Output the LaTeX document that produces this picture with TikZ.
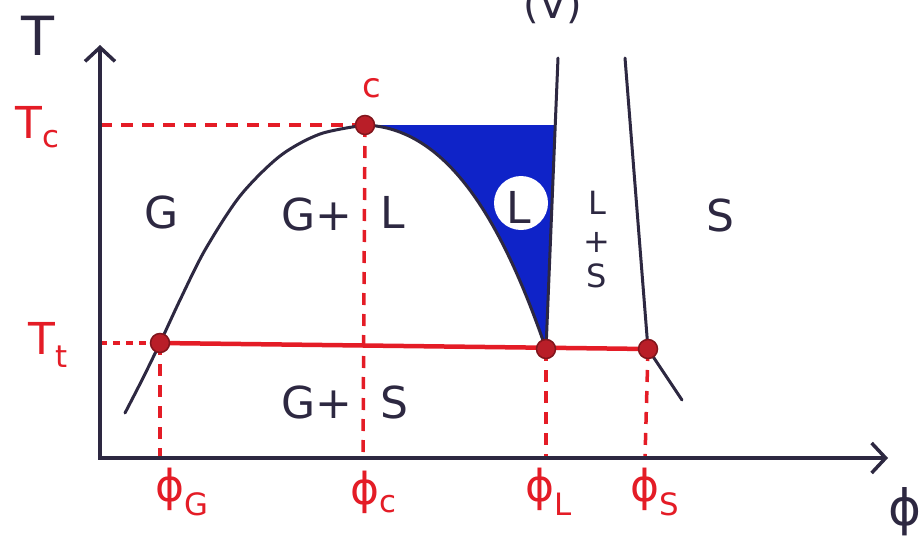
\documentclass[tikz,border=0pt]{standalone}
\usepackage{fontspec}
\setmainfont{DejaVu Sans}
\usetikzlibrary{arrows.meta}
\definecolor{ink}{RGB}{45,40,65}
\definecolor{redink}{RGB}{228,28,38}
\definecolor{blueink}{RGB}{15,35,200}
\definecolor{dotred}{RGB}{185,30,40}
\begin{document}
\begin{tikzpicture}[x=1pt,y=-1pt,
  axis/.style={draw=ink, line width=3.5pt},
  curve/.style={draw=ink, line width=3pt, line cap=round},
  reddash/.style={draw=redink, line width=3.5pt, dash pattern=on 12pt off 9pt},
  reddot/.style={draw=redink, line width=3.5pt, dash pattern=on 7pt off 6pt},
  redline/.style={draw=redink, line width=4.5pt},
  ptmark/.style={circle, fill=dotred, draw=dotred!70!black, line width=1.5pt, minimum size=19pt, inner sep=0pt},
  lab/.style={text=ink, font=\fontsize{44}{44}\selectfont, inner sep=0pt},
  smlab/.style={text=ink, font=\fontsize{32}{32}\selectfont, inner sep=0pt},
  rlab/.style={text=redink, font=\fontsize{44}{44}\selectfont, inner sep=0pt},
  tip/.style={-{Straight Barb[length=14pt,width=30pt,line width=3.5pt]}}
]
\useasboundingbox (0,0) rectangle (920,538);
\fill[white] (0,0) rectangle (920,538);

% key coordinates
\coordinate (O) at (100,458);
\coordinate (Ytop) at (100,45);
\coordinate (Xend) at (888,458);
\coordinate (C) at (365,125);
\coordinate (TG) at (160,343);
\coordinate (TL) at (546,349);
\coordinate (TS) at (648,349);
\coordinate (Mtop) at (558,58);
\coordinate (Stop) at (625,58);
\coordinate (Send) at (682,400);
\coordinate (TcAxis) at (100,125);
\coordinate (TtAxis) at (100,343);
\coordinate (TcBlue) at (555,125);
\coordinate (xG) at (160,458);
\coordinate (xC) at (363,458);
\coordinate (xL) at (546,458);
\coordinate (xS) at (645,458);

% blue liquid region
\fill[blueink] (C) .. controls (445,128) and (500,215) .. (TL) -- (TcBlue) -- cycle;
\node[circle, fill=white, minimum size=54pt, inner sep=0pt] (Lc) at (521,203) {};
\node[lab] (Lin) at (519,207) {L};

% dashed guide lines
\draw[reddash] (TcAxis) -- (C);
\draw[reddot] (TtAxis) -- (TG);
\draw[reddash] (C) -- (xC);
\draw[reddash] (TG) -- (xG);
\draw[reddash] (TL) -- (xL);
\draw[reddash] (TS) -- (xS);

% triple line
\draw[redline] (TG) -- (TS);

% axes
\draw[axis, tip] (O) -- (Ytop);
\draw[axis, tip] ([xshift=-1.75pt]O) -- (Xend);

% coexistence curves
\draw[curve] plot[smooth] coordinates {(125,413) (143,378) (160,343) (180,300) (205,250) (240,196) (280,156) (320,134) (365,125)};
\draw[curve] (C) .. controls (445,128) and (500,215) .. (TL);
\draw[curve] (TL) -- (Mtop);
\draw[curve] (TS) -- (Stop);
\draw[curve] (TS) -- (Send);

% points
\node[ptmark] (pC) at (C) {};
\node[ptmark] (pG) at (TG) {};
\node[ptmark] (pL) at (TL) {};
\node[ptmark] (pS) at (TS) {};

% labels
\node[lab, font=\fontsize{54}{54}\selectfont] (Tlab) at (38,36) {T};
\node[text=ink, font=\fontsize{50}{50}\selectfont, inner sep=0pt] (philab) at (905,512) {ϕ};
\node[text=ink, font=\fontsize{40}{40}\selectfont, inner sep=0pt] (Vlab) at (553,6) {(V)};
\node[rlab] (Tc) at (38,127) {T\textsubscript{c}};
\node[rlab] (Tt) at (48,345) {T\textsubscript{t}};
\node[rlab, font=\fontsize{34}{34}\selectfont] (clab) at (372,88) {c};
\node[lab] (Glab) at (162,212) {G};
\node[lab] (GLa) at (317,214) {G+};
\node[lab] (GLb) at (393,212) {L};
\node[smlab] (LS1) at (597,203) {L};
\node[smlab] (LS2) at (597,242) {+};
\node[smlab] (LS3) at (597,276) {S};
\node[lab] (Slab) at (720,215) {S};
\node[lab] (GSa) at (317,402) {G+};
\node[lab] (GSb) at (394,402) {S};
\node[rlab] (phG) at (182,492) {ϕ\textsubscript{G}};
\node[rlab] (phC) at (374,492) {ϕ\textsubscript{c}};
\node[rlab] (phL) at (549,492) {ϕ\textsubscript{L}};
\node[rlab] (phS) at (655,492) {ϕ\textsubscript{S}};
\end{tikzpicture}
\end{document}
